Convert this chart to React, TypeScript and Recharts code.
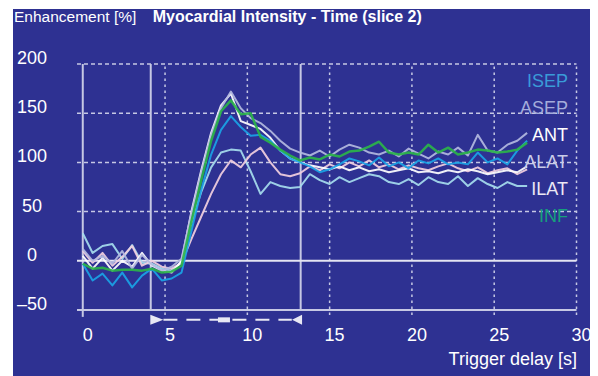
import { LineChart, Line, XAxis, YAxis, ReferenceLine, ReferenceDot } from 'recharts'

// sample times [s]
const times = [
  0, 0.6, 1.2, 1.8, 2.4, 3, 3.6, 4.2, 4.8, 5.4, 6, 6.6, 7.2, 7.8, 8.4, 9, 9.6, 10.2, 10.8, 11.4,
  12, 12.6, 13.2, 13.8, 14.4, 15, 15.6, 16.2, 16.8, 17.4, 18, 18.6, 19.2, 19.8, 20.4, 21, 21.6,
  22.2, 22.8, 23.4, 24, 24.6, 25.2, 25.8, 26.4, 27,
]

// enhancement [%] per segment
const isep = [
  -3, -20, -13, -25, -12, -27, -15, -8, -20, -18, -12,
  30, 72, 108, 133, 147, 136, 127, 128, 122, 112, 104,
  100, 96, 90, 93, 98, 104, 101, 97, 105, 96, 100, 94, 102, 99, 104, 98, 100, 98, 110, 100, 104, 98, 112, 122,
]
const asep = [
  12, 0, 5, -3, 10, -8, 6, -4, -10, -6, 2,
  48, 90, 128, 155, 172, 155, 145, 140, 132, 122, 114,
  110, 107, 112, 106, 113, 118, 115, 110, 108, 112, 106, 114, 109, 104, 111, 108, 115, 107, 128, 112, 110, 118, 122, 130,
]
const ant = [
  5, -8, 3, -10, 0, -6, 8, -5, -10, -12, 0,
  50, 92, 130, 158, 170, 142, 138, 134, 125, 112, 104,
  100, 97, 95, 93, 96, 92, 95, 91, 93, 90, 92, 94, 90, 91, 89, 92, 90, 93, 91, 88, 90, 92, 90, 96,
]
const alat = [
  28, 8, 15, 17, 2, 16, -2, -3, -8, -10, -2,
  38, 70, 95, 110, 113, 112, 91, 68, 80, 76, 74,
  75, 88, 82, 78, 85, 80, 84, 88, 86, 80, 78, 83, 77, 85, 80, 78, 86, 76, 84, 78, 74, 80, 76, 76,
]
const ilat = [
  10, -2, 8, -5, 4, 15, -5, 0, -6, -8, -2,
  22, 45, 68, 88, 102, 95, 108, 115, 100, 88, 86,
  89, 96, 92, 98, 94, 100, 96, 102, 95, 98, 93, 97, 94, 92, 96, 99, 94, 91, 95, 89, 92, 94, 88, 93,
]
const inf = [
  -3, -8, -7, -10, -9, -9, -10, -8, -12, -11, -5,
  40, 82, 122, 152, 163, 149, 150, 126, 120, 113, 107,
  102, 105, 103, 108, 106, 111, 112, 116, 121, 110, 108, 110, 108, 118, 110, 115, 108, 110, 113, 112, 110, 111, 113, 120,
]

const xTicks = [0, 5, 10, 15, 20, 25, 30]
const yTicks = [-50, 0, 50, 100, 150, 200]
const gridY = [50, 100, 150, 200]
const gridX = [5, 10, 15, 20, 25, 30]
const markers = [4.13, 13.24] // acquisition window start / end

const series = [
  { key: 'alat', name: 'ALAT', line: '#a6dcee', label: '#c8cce8' },
  { key: 'ilat', name: 'ILAT', line: '#f2cfe0', label: '#ebe8f4' },
  { key: 'ant', name: 'ANT', line: '#ffffff', label: '#ffffff' },
  { key: 'asep', name: 'ASEP', line: '#b3b8e0', label: '#a4acdb' },
  { key: 'isep', name: 'ISEP', line: '#1aa3e6', label: '#3a9bd8' },
  { key: 'inf', name: 'INF', line: '#2bb34a', label: '#16a07c' },
]
const legendOrder = ['isep', 'asep', 'ant', 'alat', 'ilat', 'inf']

const data = times.map((t, i) => ({
  t, isep: isep[i], asep: asep[i], ant: ant[i], alat: alat[i], ilat: ilat[i], inf: inf[i],
}))

const FONT = '"Liberation Sans", Arial, Helvetica, sans-serif'
const GRID = '#c6c8e4'

// eslint-disable-next-line @typescript-eslint/no-explicit-any
const XTick = ({ x, payload }: any) => (
  <text x={x + 5} y={326} fill="#fff" fontSize={18} fontFamily={FONT} textAnchor="middle" dominantBaseline="central">
    {payload.value}
  </text>
)

// eslint-disable-next-line @typescript-eslint/no-explicit-any
const YTick = ({ y, payload }: any) => (
  <text x={19} y={y - 6} fill="#fff" fontSize={18} fontFamily={FONT} textAnchor="middle" dominantBaseline="central">
    {payload.value < 0 ? `–${Math.abs(payload.value)}` : payload.value}
  </text>
)

// eslint-disable-next-line @typescript-eslint/no-explicit-any
const TriRight = ({ cx, cy }: any) => (
  <polygon points={`${cx - 6.5},${cy - 5} ${cx + 6.5},${cy} ${cx - 6.5},${cy + 5}`} fill="#e8e8f4" />
)
// eslint-disable-next-line @typescript-eslint/no-explicit-any
const TriLeft = ({ cx, cy }: any) => (
  <polygon points={`${cx + 5},${cy - 5} ${cx - 5},${cy} ${cx + 5},${cy + 5}`} fill="#e8e8f4" />
)
// eslint-disable-next-line @typescript-eslint/no-explicit-any
const Block = ({ cx, cy }: any) => <rect x={cx - 6} y={cy - 2.5} width={12} height={5} fill="#e8e8f4" />

export default function App() {
  return (
    <div style={{ paddingLeft: 5, paddingTop: 1 }}>
      <div style={{ position: 'relative', width: 585, height: 367, background: '#2e3192', fontFamily: FONT }}>
        <LineChart width={585} height={367} data={data} margin={{ top: 55, right: 21.5, bottom: 36, left: 24 }}>
          <XAxis
            dataKey="t" type="number" domain={[-0.35, 30]} allowDataOverflow ticks={xTicks}
            axisLine={false} tickLine={false} height={30} tick={<XTick />}
          />
          <YAxis
            type="number" domain={[-50, 200]} ticks={yTicks} axisLine={false} tickLine={false}
            width={40} tick={<YTick />}
          />

          {gridY.map(v => (
            <ReferenceLine key={`gy${v}`} y={v} stroke={GRID} strokeWidth={1.5} strokeDasharray="4 3" />
          ))}
          {gridX.map(v => (
            <ReferenceLine key={`gx${v}`} segment={[{ x: v, y: -55 }, { x: v, y: 200 }]} ifOverflow="visible"
              stroke={GRID} strokeWidth={1.5} strokeDasharray="2.5 3.5" />
          ))}
          <ReferenceLine segment={[{ x: 0, y: -57 }, { x: 0, y: 200 }]} ifOverflow="visible" stroke={GRID} strokeWidth={2} />
          {markers.map(v => (
            <ReferenceLine key={`m${v}`} x={v} stroke={GRID} strokeWidth={2} />
          ))}
          <ReferenceLine y={-50} stroke={GRID} strokeWidth={2} />
          <ReferenceLine y={0} stroke="#e4e4f2" strokeWidth={2} />

          {/* scan window marker below the axis */}
          <ReferenceLine segment={[{ x: 4.9, y: -60 }, { x: 12.7, y: -60 }]} ifOverflow="visible"
            stroke="#e8e8f4" strokeWidth={2} strokeDasharray="14 9" />
          <ReferenceDot x={4.5} y={-60} ifOverflow="visible" shape={<TriRight />} />
          <ReferenceDot x={8.58} y={-60} ifOverflow="visible" shape={<Block />} />
          <ReferenceDot x={13.02} y={-60} ifOverflow="visible" shape={<TriLeft />} />

          {series.map(s => (
            <Line
              key={s.key} dataKey={s.key} name={s.name} stroke={s.line}
              strokeWidth={s.key === 'inf' ? 2.5 : 2} strokeLinejoin="round" strokeOpacity={0.92}
              dot={false} activeDot={false} isAnimationActive={false} type="linear"
            />
          ))}
        </LineChart>

        <svg width={585} height={367} style={{ position: 'absolute', left: 0, top: 0, pointerEvents: 'none' }}>
          <text x={1} y={12.5} fill="#fff" fontSize={15.5} fontFamily={FONT}>Enhancement [%]</text>
          <text x={139.7} y={12.5} fill="#fff" fontSize={16} fontWeight="bold" fontFamily={FONT}>
            Myocardial Intensity - Time (slice 2)
          </text>
          {legendOrder.map((k, i) => {
            const s = series.find(x => x.key === k)!
            return (
              <text key={k} x={555} y={78 + i * 26.9} fill={s.label} fontSize={18} fontFamily={FONT} textAnchor="end">
                {s.name}
              </text>
            )
          })}
          <text x={564} y={355.5} fill="#fff" fontSize={18} fontFamily={FONT} textAnchor="end">Trigger delay [s]</text>
        </svg>
      </div>
    </div>
  )
}
